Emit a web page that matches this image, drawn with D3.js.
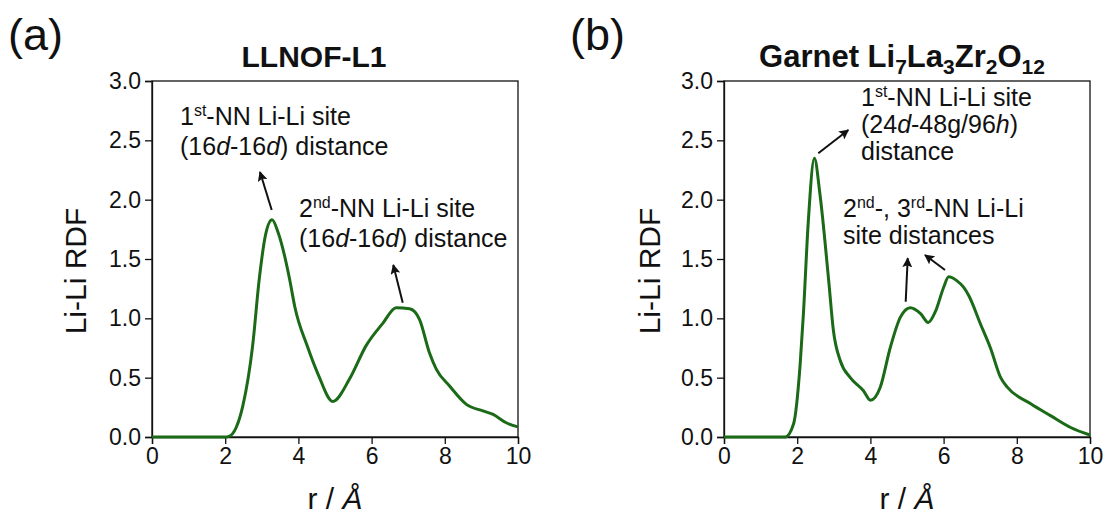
<!DOCTYPE html>
<html>
<head>
<meta charset="utf-8">
<script src="https://cdn.jsdelivr.net/npm/d3@7"></script>
<style>
  body { margin: 0; background: #fff; }
  svg { font-family: "Liberation Sans", Arial, sans-serif; }
</style>
</head>
<body>
<div id="root"></div>
<script>
// RDF curve for LLNOF-L1 (panel a)
const llnofR = [0, 1, 2, 2.1, 2.3, 2.48, 2.75, 2.93, 3.1, 3.28, 3.45, 3.76, 3.9, 4.25, 4.55, 4.94, 5.4, 5.85, 6.31, 6.67, 7.04, 7.31, 7.58, 7.77, 8.13, 8.59, 9.04, 9.32, 9.68, 10]
const llnofG = [0, 0, 0, 0.005, 0.08, 0.26, 0.77, 1.33, 1.7, 1.83, 1.72, 1.33, 1.1, 0.76, 0.52, 0.30, 0.49, 0.77, 0.96, 1.09, 1.08, 0.99, 0.71, 0.57, 0.43, 0.275, 0.22, 0.19, 0.12, 0.085]

// RDF curve for garnet LLZO (panel b)
const llzoR = [0, 1, 1.67, 1.9, 2.08, 2.17, 2.3, 2.47, 2.62, 2.86, 2.99, 3.18, 3.45, 3.81, 4.0, 4.27, 4.54, 4.82, 5.09, 5.37, 5.58, 5.78, 6.0, 6.14, 6.35, 6.55, 6.69, 7.01, 7.28, 7.56, 7.74, 8.38, 8.92, 9.47, 10]
const llzoG = [0, 0, 0, 0.11, 0.61, 1.04, 1.8, 2.35, 2.05, 1.32, 0.895, 0.64, 0.50, 0.39, 0.31, 0.42, 0.75, 1.01, 1.09, 1.04, 0.965, 1.06, 1.26, 1.35, 1.32, 1.26, 1.19, 0.95, 0.75, 0.50, 0.42, 0.28, 0.18, 0.08, 0.017]

const xTicks = [0, 2, 4, 6, 8, 10]
const yTicks = [0, 0.5, 1.0, 1.5, 2.0, 2.5, 3.0]

const w = 1105
const h = 516
const lineColor = '#1a6a17'

const svg = d3.select('#root')
  .append('svg')
  .attr('width', w)
  .attr('height', h)

const panels = [
  { left: 152, r: llnofR, g: llnofG, label: '(a)', labelX: 8, yLabelX: 86 },
  { left: 724, r: llzoR, g: llzoG, label: '(b)', labelX: 570, yLabelX: 660 }
]

const plotTop = 81
const plotBottom = 437
const pw = 366

panels.forEach(p => {
  const xScale = d3.scaleLinear().domain([0, 10]).range([p.left, p.left + pw])
  const yScale = d3.scaleLinear().domain([0, 3]).range([plotBottom, plotTop])

  const g = svg.append('g')

  // frame
  g.append('rect')
    .attr('x', p.left)
    .attr('y', plotTop)
    .attr('width', pw)
    .attr('height', plotBottom - plotTop)
    .attr('fill', 'none')
    .attr('stroke', '#111')
    .attr('stroke-width', 1.3)

  const xAxis = d3.axisBottom(xScale)
    .tickValues(xTicks)
    .tickSize(7)
    .tickPadding(4)
    .tickFormat(d3.format('d'))

  const yAxis = d3.axisLeft(yScale)
    .tickValues(yTicks)
    .tickSize(7)
    .tickPadding(4)
    .tickFormat(d3.format('.1f'))

  const gx = g.append('g')
    .attr('transform', 'translate(0, ' + plotBottom + ')')
    .call(xAxis)
  const gy = g.append('g')
    .attr('transform', 'translate(' + p.left + ', 0)')
    .call(yAxis)

  ;[gx, gy].forEach(a => {
    a.select('.domain').attr('stroke', '#111').attr('stroke-width', 1.3)
    a.selectAll('.tick line').attr('stroke', '#111').attr('stroke-width', 1.3)
    a.selectAll('.tick text')
      .attr('fill', '#111')
      .style('font-size', '23px')
      .style('font-family', '"Liberation Sans", Arial, sans-serif')
  })

  // curve
  const line = d3.line()
    .x((d, i) => xScale(p.r[i]))
    .y(d => yScale(d))
    .curve(d3.curveMonotoneX)

  g.append('path')
    .datum(p.g)
    .attr('d', line)
    .attr('fill', 'none')
    .attr('stroke', lineColor)
    .attr('stroke-width', 3)

  // panel label
  g.append('text')
    .attr('x', p.labelX)
    .attr('y', 50)
    .style('font-size', '45px')
    .attr('fill', '#111')
    .text(p.label)

  // y label
  g.append('text')
    .attr('transform', 'translate(' + p.yLabelX + ',' + ((plotTop + plotBottom) / 2 + 12) + ') rotate(-90)')
    .attr('text-anchor', 'middle')
    .style('font-size', '30px')
    .attr('fill', '#111')
    .text('Li-Li RDF')

  // x label
  const xl = g.append('text')
    .attr('x', p.left + pw / 2)
    .attr('y', 509)
    .attr('text-anchor', 'middle')
    .style('font-size', '30px')
    .attr('fill', '#111')
  xl.append('tspan').text('r / ')
  xl.append('tspan').style('font-style', 'italic').text('Å')
})

// titles
svg.append('text')
  .attr('x', 314)
  .attr('y', 67)
  .attr('text-anchor', 'middle')
  .style('font-size', '30px')
  .style('font-weight', 'bold')
  .attr('fill', '#111')
  .text('LLNOF-L1')

const t2 = svg.append('text')
  .attr('x', 902)
  .attr('y', 67)
  .attr('text-anchor', 'middle')
  .style('font-size', '31px')
  .style('font-weight', 'bold')
  .attr('fill', '#111')
;[['Garnet Li', false], ['7', true], ['La', false], ['3', true], ['Zr', false], ['2', true], ['O', false], ['12', true]]
  .forEach(([s, sub], i) => {
    t2.append('tspan')
      .attr('dy', i === 0 ? 0 : (sub ? 7 : -7))
      .style('font-size', sub ? '21px' : '31px')
      .text(s)
  })

// annotation text helper: parts are [text, style] where style is '', 'i' or 'sup'
function annot(x, y, lines, step) {
  lines.forEach((parts, li) => {
    const t = svg.append('text')
      .attr('x', x)
      .attr('y', y + li * step)
      .style('font-size', '25px')
      .attr('fill', '#111')
    let raised = false
    parts.forEach(([s, st]) => {
      const ts = t.append('tspan').text(s)
      if (st === 'i') ts.style('font-style', 'italic')
      if (st === 'sup') {
        ts.style('font-size', '16px').attr('dy', raised ? 0 : -9)
        raised = true
      } else if (raised) {
        ts.attr('dy', 9)
        raised = false
      }
    })
  })
}

annot(180, 125, [
  [['1', ''], ['st', 'sup'], ['-NN Li-Li site', '']],
  [['(16', ''], ['d', 'i'], ['-16', ''], ['d', 'i'], [') distance', '']]
], 30)
annot(299, 217, [
  [['2', ''], ['nd', 'sup'], ['-NN Li-Li site', '']],
  [['(16', ''], ['d', 'i'], ['-16', ''], ['d', 'i'], [') distance', '']]
], 30)
annot(861, 106, [
  [['1', ''], ['st', 'sup'], ['-NN Li-Li site', '']],
  [['(24', ''], ['d', 'i'], ['-48g/96', ''], ['h', 'i'], [')', '']],
  [['distance', '']]
], 27)
annot(843, 217, [
  [['2', ''], ['nd', 'sup'], ['-, 3', ''], ['rd', 'sup'], ['-NN Li-Li', '']],
  [['site distances', '']]
], 27)

// arrows
svg.append('defs').append('marker')
  .attr('id', 'head')
  .attr('viewBox', '0 0 10 10')
  .attr('refX', 9)
  .attr('refY', 5)
  .attr('markerWidth', 5)
  .attr('markerHeight', 5)
  .attr('orient', 'auto')
  .append('path')
  .attr('d', 'M0,0 L10,5 L0,10 L2,5 Z')
  .attr('fill', '#111')

const arrows = [
  [271.7, 210, 260, 172],
  [402.7, 302.7, 393.3, 265],
  [818.3, 153.3, 848.3, 130],
  [905.7, 301.7, 907.7, 258.3],
  [945, 270, 925, 255]
]
svg.selectAll('line.arrow')
  .data(arrows)
  .enter()
  .append('line')
    .attr('class', 'arrow')
    .attr('x1', d => d[0])
    .attr('y1', d => d[1])
    .attr('x2', d => d[2])
    .attr('y2', d => d[3])
    .attr('stroke', '#111')
    .attr('stroke-width', 2)
    .attr('marker-end', 'url(#head)')
</script>
</body>
</html>
